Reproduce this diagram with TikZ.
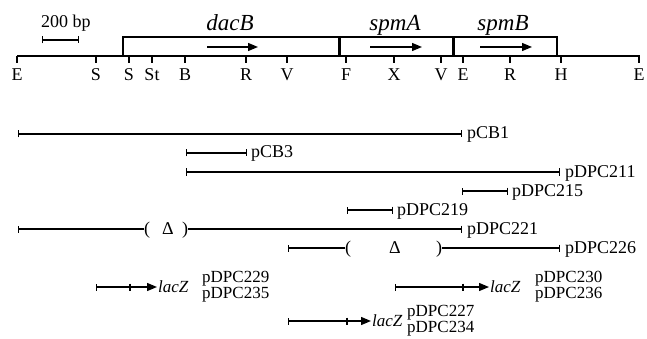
\documentclass[tikz,border=0pt]{standalone}
\usepackage{fontspec}
\setmainfont{Liberation Serif}
\usetikzlibrary{arrows.meta}
\begin{document}
\begin{tikzpicture}[x=1pt,y=-1pt,
  seg/.style={line width=1.3pt},
  clone/.style={line width=1.3pt,{Bar[width=7pt]}-{Bar[width=7pt]}},
  lbar/.style={line width=1.3pt,{Bar[width=7pt]}-},
  rbar/.style={line width=1.3pt,-{Bar[width=7pt]}},
  fusion/.style={line width=1.3pt,-{Triangle[length=10pt,width=8pt]}},
  lbl/.style={font=\fontsize{18}{18}\selectfont,inner sep=0pt,anchor=base west},
  lbls/.style={font=\fontsize{17}{17}\selectfont,inner sep=0pt,anchor=base west},
  lz/.style={font=\fontsize{17}{17}\selectfont\itshape,inner sep=0pt,anchor=base west},
  txt/.style={font=\fontsize{18}{18}\selectfont,inner sep=0pt,anchor=base},
  gene/.style={font=\fontsize{23}{23}\selectfont\itshape,inner sep=0pt,anchor=base},
  tick/.style={line width=1.3pt},
  boxline/.style={line width=1.2pt}
]
\useasboundingbox (0,0) rectangle (647,339);

% scale bar
\coordinate (sb1) at (42,40); \coordinate (sb2) at (79,40);
\draw[clone] (sb1) -- (sb2);
\node[lbl] (sbt) at (41,28) {200 bp};

% map baseline
\coordinate (mapL) at (17,56); \coordinate (mapR) at (640,56);
\draw[line width=1.8pt] (mapL) -- (mapR);
\foreach \x/\t/\n in {17/E/1,96/S/2,129/S/3,152/St/4,185/B/5,246/R/6,287/V/7,346/F/8,394/X/9,441/V/10,463/E/11,510/R/12,561/H/13,639/E/14}{
  \coordinate (m\n) at (\x,56);
  \coordinate (t\n) at (\x,63);
  \draw[tick] (m\n) -- (t\n);
  \node[txt] (site\n) at (\x,81) {\t};
}

% gene boxes
\coordinate (g0) at (123,56); \coordinate (g0t) at (123,37);
\coordinate (g1) at (339,56); \coordinate (g1t) at (339,37);
\coordinate (g2) at (453,56); \coordinate (g2t) at (453,37);
\coordinate (g3) at (557,56); \coordinate (g3t) at (557,37);
\draw[boxline] (g0) -- (g0t) -- (g1t) -- (g2t) -- (g3t) -- (g3);
\draw[line width=3pt] (g1) -- (g1t);
\draw[line width=3pt] (g2) -- (g2t);

\coordinate (a1) at (207,47); \coordinate (a1e) at (258,47);
\coordinate (a2) at (370,47); \coordinate (a2e) at (422,47);
\coordinate (a3) at (480,47); \coordinate (a3e) at (532,47);
\draw[fusion] (a1) -- (a1e);
\draw[fusion] (a2) -- (a2e);
\draw[fusion] (a3) -- (a3e);
\node[gene] (dacB) at (230,31) {dacB};
\node[gene] (spmA) at (395,31) {spmA};
\node[gene] (spmB) at (503,31) {spmB};

% clones
\coordinate (c1a) at (18,134); \coordinate (c1b) at (462,134);
\draw[clone] (c1a) -- (c1b);
\node[lbl] (pCB1) at (467,139) {pCB1};

\coordinate (c3a) at (186,153); \coordinate (c3b) at (247,153);
\draw[clone] (c3a) -- (c3b);
\node[lbl] (pCB3) at (251,158) {pCB3};

\coordinate (c211a) at (186,172); \coordinate (c211b) at (560,172);
\draw[clone] (c211a) -- (c211b);
\node[lbl] (pDPC211) at (565,177) {pDPC211};

\coordinate (c215a) at (462,191); \coordinate (c215b) at (508,191);
\draw[clone] (c215a) -- (c215b);
\node[lbl] (pDPC215) at (512,196) {pDPC215};

\coordinate (c219a) at (347,210); \coordinate (c219b) at (393,210);
\draw[clone] (c219a) -- (c219b);
\node[lbl] (pDPC219) at (397,215) {pDPC219};

% pDPC221 with deletion
\coordinate (c221a) at (18,229); \coordinate (c221b) at (462,229);
\node[txt] (lp221) at (147,234.5) {(};
\node[txt] (d221) at (168,234.5) {Δ};
\node[txt] (rp221) at (185,234.5) {)};
\draw[lbar] (c221a) -- (lp221.west |- c221a);
\draw[rbar] (rp221.east |- c221b) -- (c221b);
\node[lbl] (pDPC221) at (467,234) {pDPC221};

% pDPC226 with deletion
\coordinate (c226a) at (288,248); \coordinate (c226b) at (560,248);
\node[txt] (lp226) at (348,253.5) {(};
\node[txt] (d226) at (395,253.5) {Δ};
\node[txt] (rp226) at (439,253.5) {)};
\draw[lbar] (c226a) -- (lp226.west |- c226a);
\draw[rbar] (rp226.east |- c226b) -- (c226b);
\node[lbl] (pDPC226) at (565,253) {pDPC226};

% lacZ fusions
\coordinate (f1a) at (96,287); \coordinate (f1m) at (130,287); \coordinate (f1b) at (157,287);
\draw[lbar] (f1a) -- (f1m);
\draw[fusion] (f1m) -- (f1b);
\draw[tick] (130,283.5) -- (130,290.5);
\node[lz] (lacZ1) at (158,292) {lacZ};
\node[lbls] (pDPC229) at (202,282) {pDPC229};
\node[lbls] (pDPC235) at (202,298) {pDPC235};

\coordinate (f2a) at (395,287); \coordinate (f2m) at (463,287); \coordinate (f2b) at (489,287);
\draw[lbar] (f2a) -- (f2m);
\draw[fusion] (f2m) -- (f2b);
\draw[tick] (463,283.5) -- (463,290.5);
\node[lz] (lacZ2) at (490,292) {lacZ};
\node[lbls] (pDPC230) at (535,282) {pDPC230};
\node[lbls] (pDPC236) at (535,298) {pDPC236};

\coordinate (f3a) at (288,321); \coordinate (f3m) at (347,321); \coordinate (f3b) at (371,321);
\draw[lbar] (f3a) -- (f3m);
\draw[fusion] (f3m) -- (f3b);
\draw[tick] (347,317.5) -- (347,324.5);
\node[lz] (lacZ3) at (372,326) {lacZ};
\node[lbls] (pDPC227) at (407,316) {pDPC227};
\node[lbls] (pDPC234) at (407,332) {pDPC234};
\end{tikzpicture}
\end{document}
